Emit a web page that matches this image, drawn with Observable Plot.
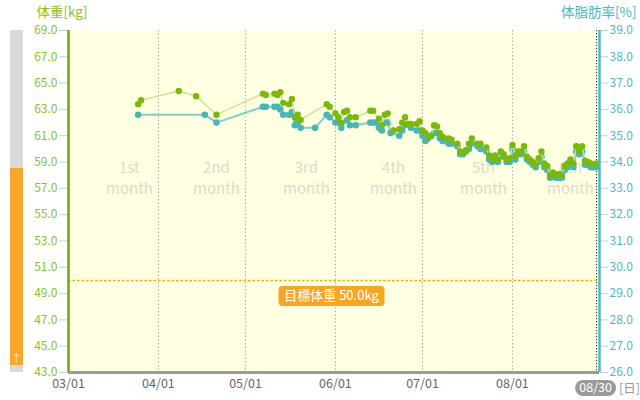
<!DOCTYPE html>
<html><head><meta charset="utf-8">
<script src="https://cdn.jsdelivr.net/npm/d3@7"></script>
<script src="https://cdn.jsdelivr.net/npm/@observablehq/plot@0.6"></script>
<style>
body{margin:0;background:#fff;}
#chart svg{display:block;font-family:"Noto Sans CJK JP","Noto Sans",sans-serif;}
</style></head><body><div id="chart"></div>
<script>
const year = "2019";
const domainStart = "03-01", domainEnd = "08-31", today = "08-30";

const weightDates = ["03-25","03-26","04-08","04-14","04-21","05-07","05-08","05-11","05-12","05-13","05-14","05-16","05-17","05-18","05-19","05-20","05-29","05-30","06-01","06-02","06-03","06-04","06-05","06-06","06-08","06-13","06-14","06-16","06-17","06-18","06-19","06-21","06-23","06-24","06-25","06-26","06-27","06-29","06-30","07-01","07-02","07-03","07-04","07-05","07-06","07-07","07-08","07-10","07-11","07-13","07-14","07-15","07-16","07-17","07-18","07-20","07-21","07-23","07-24","07-25","07-26","07-27","07-28","07-29","07-30","07-31","08-01","08-02","08-03","08-04","08-05","08-06","08-07","08-08","08-09","08-10","08-11","08-12","08-13","08-14","08-15","08-16","08-17","08-18","08-19","08-20","08-21","08-22","08-23","08-24","08-25","08-26","08-27","08-28","08-29","08-30"];
const weightValues = [63.4,63.7,64.4,64.0,62.6,64.2,64.1,64.2,64.1,64.3,63.5,63.4,63.8,62.4,62.6,62.2,63.4,63.2,62.7,62.4,62.0,62.8,62.9,62.4,62.4,62.9,62.9,62.3,61.8,62.6,62.7,61.4,61.5,62.0,62.4,61.9,61.9,61.9,62.1,61.4,61.2,60.9,61.0,61.8,61.7,61.2,60.9,60.8,60.7,60.4,59.8,59.7,59.9,60.4,60.8,60.4,60.4,60.1,59.5,59.2,59.5,59.2,59.8,59.6,59.2,59.3,60.3,59.5,59.8,59.8,60.2,59.4,59.2,59.0,58.8,59.3,59.8,58.9,58.7,58.0,58.2,58.0,58.1,58.0,58.7,58.9,59.2,58.9,60.2,59.8,60.2,59.1,59.0,58.9,58.8,58.9];

const fatDates = ["03-25","04-17","04-21","05-07","05-08","05-11","05-12","05-13","05-14","05-16","05-17","05-18","05-19","05-20","05-25","05-29","05-30","06-01","06-02","06-03","06-05","06-06","06-08","06-13","06-14","06-15","06-16","06-17","06-18","06-19","06-20","06-23","06-24","06-25","06-27","06-29","06-30","07-01","07-02","07-03","07-04","07-05","07-06","07-07","07-08","07-10","07-11","07-13","07-14","07-15","07-16","07-17","07-18","07-20","07-21","07-23","07-24","07-25","07-26","07-27","07-28","07-29","07-30","07-31","08-01","08-02","08-03","08-04","08-05","08-06","08-07","08-08","08-09","08-10","08-11","08-12","08-13","08-14","08-15","08-16","08-17","08-18","08-19","08-20","08-21","08-22","08-23","08-24","08-25","08-26","08-27","08-28","08-29","08-30"];
const fatValues = [35.8,35.8,35.5,36.1,36.1,36.1,36.1,36.0,35.8,35.8,35.9,35.4,35.5,35.3,35.3,35.8,35.7,35.5,35.5,35.3,35.6,35.4,35.4,35.5,35.5,35.5,35.3,35.2,35.5,35.5,35.1,35.0,35.2,35.4,35.3,35.2,35.2,35.0,34.8,34.9,35.0,35.1,35.1,34.9,34.8,34.7,34.7,34.6,34.3,34.3,34.4,34.5,34.7,34.6,34.5,34.4,34.1,34.0,34.1,34.0,34.3,34.2,34.0,34.0,34.5,34.1,34.3,34.3,34.4,34.1,34.0,33.9,33.8,34.0,34.2,33.8,33.7,33.4,33.5,33.4,33.4,33.4,33.7,33.8,34.0,33.8,34.4,34.3,34.4,33.9,33.9,33.8,33.8,33.8];

const monthTicks = ["03-01","04-01","05-01","06-01","07-01","08-01"];
const weightTicks = [43,45,47,49,51,53,55,57,59,61,63,65,67,69];
const fatTicks = [26,27,28,29,30,31,32,33,34,35,36,37,38,39];
const periodLabels = ["1st","2nd","3rd","4th","5th","6th"];
const periodCenters = ["03-22","04-21","05-22","06-21","07-22","08-21"];
const targetWeight = 50.0;
const progressWeight = 58.5;

const parse = s => d3.utcParse("%Y-%m-%d")(`${year}-${s}`);
// fat axis (26–39 %) shares the weight axis (43–69 kg)
const fatToW = f => 43 + (f - 26) * 2;
const wToFat = w => 26 + (w - 43) / 2;

const weightData = weightDates.map((d, i) => ({date: parse(d), value: weightValues[i]}));
const fatData = fatDates.map((d, i) => ({date: parse(d), value: fatValues[i]}));
const periods = periodCenters.map((d, i) => ({date: parse(d), label: periodLabels[i] + "\nmonth"}));

const font = '"Noto Sans CJK JP","Noto Sans",sans-serif';

function progressBar(index, scales, values, dim) {
  const g = d3.create("svg:g");
  const top = dim.marginTop, bottom = dim.height - dim.marginBottom;
  g.append("rect").attr("x", 10).attr("width", 13).attr("y", top).attr("height", bottom - top).attr("fill", "#d9d9d9");
  const p = scales.y(progressWeight);
  g.append("rect").attr("x", 10).attr("width", 13).attr("y", p).attr("height", bottom - 7 - p).attr("fill", "#f6a72b");
  g.append("text").attr("x", 16.5).attr("y", bottom - 9).attr("text-anchor", "middle")
    .attr("fill", "#fde3b8").attr("font-size", 11).attr("font-family", font).text("↑");
  return g.node();
}

function targetLabel(index, scales, values, dim) {
  const cx = (dim.marginLeft + dim.width - dim.marginRight) / 2 - 2;
  const cy = scales.y(targetWeight) + 16;
  const g = d3.create("svg:g");
  g.append("rect").attr("x", cx - 53).attr("y", cy - 10).attr("width", 106).attr("height", 20)
    .attr("rx", 4).attr("fill", "#f5a623");
  g.append("text").attr("x", cx).attr("y", cy).attr("dy", "0.35em").attr("text-anchor", "middle")
    .attr("fill", "#fff").attr("font-size", 13).attr("font-family", font)
    .text(`目標体重 ${targetWeight.toFixed(1)}kg`);
  return g.node();
}

function todayBadge(index, scales, values, dim) {
  const cx = scales.x(parse(today));
  const cy = dim.height - dim.marginBottom + 16;
  const g = d3.create("svg:g");
  g.append("rect").attr("x", cx - 21).attr("y", cy - 8).attr("width", 41).attr("height", 16)
    .attr("rx", 8).attr("fill", "#9a9a9a");
  g.append("text").attr("x", cx - 0.5).attr("y", cy).attr("dy", "0.35em").attr("text-anchor", "middle")
    .attr("fill", "#fff").attr("font-size", 12.5).attr("font-family", font).text(d3.utcFormat("%m/%d")(parse(today)));
  g.append("text").attr("x", cx + 23).attr("y", cy + 1).attr("dy", "0.35em").attr("text-anchor", "start")
    .attr("fill", "#999").attr("font-size", 12.5).attr("font-family", font).text("[日]");
  return g.node();
}

const chart = Plot.plot({
  width: 640,
  height: 400,
  marginTop: 30,
  marginBottom: 28,
  marginLeft: 68,
  marginRight: 41,
  style: {fontFamily: font, background: "#fff"},
  x: {type: "utc", domain: [parse(domainStart), parse(domainEnd)]},
  y: {domain: [43, 69]},
  marks: [
    Plot.frame({fill: "#ffffe2", stroke: null}),
    progressBar,
    Plot.ruleX(monthTicks.slice(1).map(parse), {stroke: "#9a9a9a", strokeDasharray: "1.2,2.4"}),
    Plot.ruleX([parse(today)], {stroke: "#222", strokeDasharray: "1.2,1.8"}),
    Plot.text(periods, {x: "date", text: "label", frameAnchor: "middle", dy: -25, fontSize: 15,
      lineHeight: 1.45, fill: "#dcdcc6"}),
    Plot.ruleY([targetWeight], {stroke: "#f5a623", strokeDasharray: "2.5,2", strokeWidth: 1.5}),
    targetLabel,
    Plot.line(fatData, {x: "date", y: d => fatToW(d.value), stroke: "#7fd0c6", strokeWidth: 2}),
    Plot.dot(fatData, {x: "date", y: d => fatToW(d.value), r: 3.3, fill: "#4bb5b3"}),
    Plot.line(weightData, {x: "date", y: "value", stroke: "#c9e39a", strokeWidth: 1.5}),
    Plot.dot(weightData, {x: "date", y: "value", r: 3.2, fill: "#7bb80a"}),
    Plot.axisY({anchor: "left", ticks: weightTicks, tickFormat: d => d.toFixed(1), tickSize: 9, tickPadding: 2,
      stroke: "#cccccc", fill: "#8cc21f", fontSize: 12, label: null}),
    Plot.axisY({anchor: "right", ticks: fatTicks.map(fatToW), tickFormat: w => wToFat(w).toFixed(1), tickSize: 8,
      tickPadding: 2, stroke: "#cccccc", fill: "#4bb8c8", fontSize: 12, label: null}),
    Plot.axisX({ticks: monthTicks.map(parse), tickFormat: d3.utcFormat("%m/%d"), tickSize: 0, tickPadding: 7,
      fill: "#666", fontSize: 12.5, label: null}),
    Plot.ruleY([43], {stroke: "#9a9a9a", strokeWidth: 3}),
    Plot.ruleX([parse(domainStart)], {stroke: "#6aa812", strokeWidth: 2.5}),
    Plot.ruleX([parse(domainEnd)], {stroke: "#4bb8c8", strokeWidth: 2.5}),
    todayBadge,
    Plot.text(["体重[kg]"], {frameAnchor: "top-left", lineAnchor: "middle", dx: -32, dy: -18, fontSize: 13.5, fill: "#8cc21f"}),
    Plot.text(["体脂肪率[%]"], {frameAnchor: "top-right", lineAnchor: "middle", dx: 37, dy: -18, fontSize: 13.5, fill: "#4bb8c8"})
  ]
});
document.getElementById("chart").append(chart);
</script></body></html>
